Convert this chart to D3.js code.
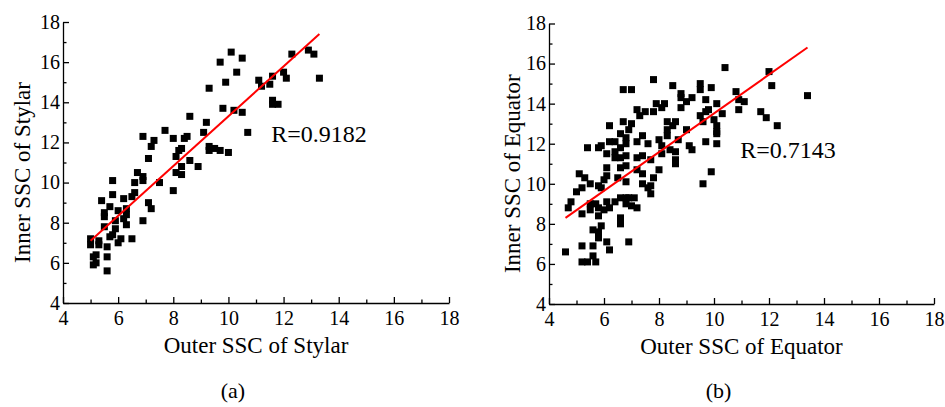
<!DOCTYPE html>
<html>
<head>
<meta charset="utf-8">
<script src="https://cdnjs.cloudflare.com/ajax/libs/d3/7.8.5/d3.min.js"></script>
<style>
  body { margin: 0; background: #fff; }
  .axis path, .axis line { stroke: #000; stroke-width: 1.3; }
  .title { font-size: 23px; fill: #000; }
  .rlabel { font-size: 24px; fill: #000; }
  .tag { font-size: 22px; fill: #000; }
</style>
</head>
<body>
<script>
var width = 945,
    height = 407;
var serif = "'Liberation Serif', 'Times New Roman', serif";

// axis ticks (same for both panels)
var majorTicks = [4, 6, 8, 10, 12, 14, 16, 18];
var minorTicks = [5, 7, 9, 11, 13, 15, 17];

// (a) stylar
var stylarOuter = [6.9, 7.7, 7.3, 7.2, 8.0, 8.5, 8.4, 9.2, 9.1, 9.3, 9.3, 9.5, 9.7, 10.0, 8.3, 8.2, 8.1, 7.1, 8.6, 8.9,
  8.3, 8.1, 8.3, 6.7, 6.9, 6.9, 7.5, 6.6, 5.8, 8.0, 6.6, 6.5, 5.8, 6.2, 5.4, 7.1, 7.2, 5.7, 5.5, 5.5,
  6.0, 6.3, 6.3, 6.2, 5.9, 6.9, 6.3, 5.5, 5.9, 5.8, 5.7, 6.1, 6.5, 6.0, 5.0, 5.3, 5.0, 5.3, 5.6, 5.2,
  5.1, 5.2, 5.1, 5.6, 5.6,
  10.1, 10.5, 9.7, 10.3, 9.9, 9.3, 12.3, 12.9, 13.1, 12.0, 12.1, 13.3, 11.1, 11.2, 11.5, 11.6, 11.6, 11.8, 11.6, 9.8,
  10.2, 10.5, 8.6, 10.7];
var stylarInner = [12.3, 12.6, 12.1, 11.8, 12.2, 12.3, 12.2, 13.0, 12.5, 11.8, 11.6, 11.7, 11.6, 11.5, 11.7, 11.6, 11.3, 11.2, 11.1, 10.8,
  10.8, 10.5, 10.4, 10.5, 10.3, 10.1, 10.0, 10.0, 10.1, 9.6, 9.5, 9.3, 9.4, 9.2, 9.1, 9.0, 8.7, 8.8, 8.5, 8.3,
  8.6, 8.7, 8.4, 8.2, 8.1, 8.1, 7.9, 7.8, 7.7, 7.4, 7.3, 7.2, 7.2, 7.0, 7.2, 7.1, 6.9, 6.9, 6.8, 6.4,
  6.3, 6.0, 5.9, 6.3, 5.6,
  16.5, 16.2, 16.0, 15.5, 15.0, 14.7, 16.4, 16.6, 16.4, 15.5, 15.2, 15.2, 15.1, 14.8, 14.9, 15.3, 14.1, 13.9, 13.9, 13.7,
  13.6, 13.5, 13.3, 12.5];
var stylarFitX = [5.0, 13.3];
var stylarFitY = [7.1, 17.4];

// (b) equator
var equatorOuter = [7.8, 6.7, 7.0, 8.5, 8.8, 7.9, 8.2, 8.8, 7.2, 7.5, 7.8, 7.3, 6.2, 6.7, 7.0, 6.9, 6.6, 6.8, 8.3, 8.6,
  8.3, 8.3, 8.7, 6.2, 6.4, 7.2, 7.4, 7.6, 8.0, 8.1, 8.4, 8.6, 8.6, 5.4, 5.8, 5.9, 6.1, 6.4, 6.6, 6.8,
  6.4, 6.6, 6.8, 7.2, 7.4, 7.7, 6.8, 6.6, 6.1, 7.2, 7.4, 8.0, 7.8, 7.4, 7.7, 7.7, 7.6, 6.1, 6.0, 6.5,
  6.8, 5.8, 5.9, 5.1, 5.3, 5.5, 5.2, 5.0, 6.8, 6.6, 6.9, 7.1, 6.4, 6.1, 5.7, 5.8, 6.0, 6.2, 6.8, 7.0,
  7.2, 4.8, 4.7, 5.5, 5.5, 5.2, 5.8, 6.6, 6.6, 6.6, 5.9, 5.6, 5.8, 5.8, 6.1, 6.2, 6.9, 5.2, 5.6, 4.6,
  5.6, 5.2, 5.4, 5.7,
  10.4, 12.0, 12.1, 13.4, 9.5, 9.5, 9.9, 8.8, 9.2, 9.0, 8.1, 9.7, 10.1, 10.8, 10.9, 11.1, 10.9, 11.7, 11.9, 12.3,
  9.8, 9.7, 9.5, 9.6, 10.3, 10.0, 10.1, 10.1, 10.1, 8.5, 9.0, 9.1, 9.2, 8.6, 8.1, 9.6, 9.9, 9.7, 10.1];
var equatorInner = [15.2, 14.7, 14.7, 14.9, 14.5, 14.0, 14.0, 13.8, 13.7, 13.6, 13.6, 13.4, 12.9, 13.1, 13.0, 12.7, 12.5, 12.3, 13.1, 13.1,
  12.7, 12.4, 12.2, 12.1, 12.1, 12.1, 12.4, 12.0, 12.2, 11.9, 11.7, 11.6, 11.2, 11.8, 11.8, 11.9, 11.5, 11.6, 11.8, 12.0,
  11.3, 11.3, 11.4, 11.3, 11.4, 11.2, 10.9, 10.8, 10.8, 10.7, 10.5, 10.7, 10.3, 10.0, 9.9, 9.5, 9.8, 10.4, 10.2, 10.3,
  10.1, 9.9, 9.8, 10.5, 10.3, 10.0, 9.8, 9.6, 9.3, 9.3, 9.3, 9.3, 9.1, 9.1, 9.0, 8.8, 8.7, 8.8, 9.0, 8.9,
  8.8, 9.1, 8.8, 9.0, 8.7, 8.5, 8.4, 8.3, 8.1, 8.0, 7.9, 7.7, 7.6, 7.3, 7.1, 6.7, 7.1, 6.9, 6.9, 6.6,
  6.4, 6.1, 6.1, 6.1,
  15.8, 15.6, 14.9, 14.4, 15.0, 14.7, 14.8, 14.3, 14.3, 14.1, 13.8, 14.2, 14.0, 14.6, 14.2, 14.1, 13.7, 13.6, 13.3, 12.9,
  13.7, 13.6, 13.4, 13.1, 13.5, 13.2, 12.9, 12.6, 12.5, 12.9, 12.7, 11.9, 11.7, 11.0, 11.5, 10.0, 10.6, 12.1, 12.0];
var equatorFitX = [4.6, 13.4];
var equatorFitY = [8.3, 16.8];

var panels = [
  { outer: stylarOuter, inner: stylarInner, fitX: stylarFitX, fitY: stylarFitY,
    r: "R=0.9182", rAt: [11.55, 12.0], xTitle: "Outer SSC of Stylar", yTitle: "Inner SSC of Stylar",
    tag: "(a)", left: 63, right: 449, top: 22, bottom: 303, yTitleX: 30 },
  { outer: equatorOuter, inner: equatorInner, fitX: equatorFitX, fitY: equatorFitY,
    r: "R=0.7143", rAt: [10.95, 11.27], xTitle: "Outer SSC of Equator", yTitle: "Inner SSC of Equator",
    tag: "(b)", left: 549, right: 934, top: 23.5, bottom: 304, yTitleX: 520 }
];

var svg = d3.select("body").append("svg")
    .attr("width", width)
    .attr("height", height)
    .style("font-family", serif);

panels.forEach(function(p) {
  var x = d3.scaleLinear().domain([4, 18]).range([p.left, p.right]);
  var y = d3.scaleLinear().domain([4, 18]).range([p.bottom, p.top]);

  var g = svg.append("g");

  // minor ticks first, then major axis on top
  g.append("g")
      .attr("class", "axis")
      .attr("transform", "translate(0," + p.bottom + ")")
      .call(d3.axisBottom(x).tickValues(minorTicks).tickSize(-3.5).tickSizeOuter(0).tickFormat(""))
      .select(".domain").remove();
  g.append("g")
      .attr("class", "axis")
      .attr("transform", "translate(" + p.left + ",0)")
      .call(d3.axisLeft(y).tickValues(minorTicks).tickSize(-3.5).tickSizeOuter(0).tickFormat(""))
      .select(".domain").remove();

  var xAxis = g.append("g")
      .attr("class", "axis")
      .attr("transform", "translate(0," + p.bottom + ")")
      .call(d3.axisBottom(x).tickValues(majorTicks).tickSize(-6).tickSizeOuter(0).tickPadding(8));
  var yAxis = g.append("g")
      .attr("class", "axis")
      .attr("transform", "translate(" + p.left + ",0)")
      .call(d3.axisLeft(y).tickValues(majorTicks).tickSize(-6).tickSizeOuter(0).tickPadding(3));

  [xAxis, yAxis].forEach(function(a) {
    a.attr("font-family", serif).attr("font-size", 20);
    a.selectAll("text").attr("fill", "#000");
  });

  // points
  g.selectAll("rect.pt")
    .data(p.outer.map(function(d, i) { return [d, p.inner[i]]; }))
    .enter().append("rect")
      .attr("class", "pt")
      .attr("x", function(d) { return x(d[0]) - 3.5; })
      .attr("y", function(d) { return y(d[1]) - 3.5; })
      .attr("width", 7)
      .attr("height", 7)
      .attr("fill", "#000");

  // fit line
  g.append("line")
      .attr("x1", x(p.fitX[0])).attr("y1", y(p.fitY[0]))
      .attr("x2", x(p.fitX[1])).attr("y2", y(p.fitY[1]))
      .attr("stroke", "#ff0000")
      .attr("stroke-width", 2);

  g.append("text")
      .attr("class", "rlabel")
      .attr("x", x(p.rAt[0]))
      .attr("y", y(p.rAt[1]))
      .text(p.r);

  g.append("text")
      .attr("class", "title")
      .attr("x", (p.left + p.right) / 2)
      .attr("y", p.bottom + 50)
      .attr("text-anchor", "middle")
      .text(p.xTitle);

  g.append("text")
      .attr("class", "title")
      .attr("transform", "translate(" + p.yTitleX + "," + ((p.top + p.bottom) / 2 + 10) + ") rotate(-90)")
      .attr("text-anchor", "middle")
      .text(p.yTitle);

  g.append("text")
      .attr("class", "tag")
      .attr("x", (p.left + p.right) / 2 - 23)
      .attr("y", 398)
      .attr("text-anchor", "middle")
      .text(p.tag);
});
</script>
</body>
</html>
